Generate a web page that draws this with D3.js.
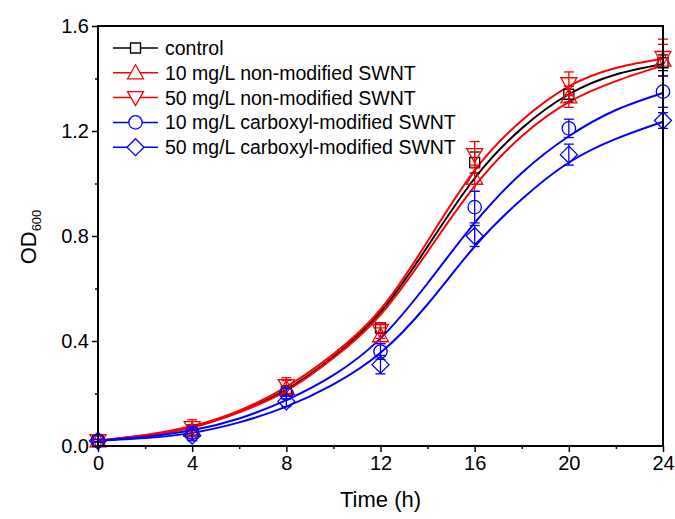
<!DOCTYPE html>
<html>
<head>
<meta charset="utf-8">
<script src="https://cdn.jsdelivr.net/npm/d3@7"></script>
<style>
    body { margin: 0; background: #fff; }
    text { font-family: "Liberation Sans", Arial, sans-serif; fill: #000; }
</style>
</head>
<body>
<script>
(function(){

    //measured time points (h)
    var times = [0, 4, 8, 12, 16, 20, 24];

    //OD600 means
    var control = [0.02, 0.06, 0.21, 0.45, 1.08, 1.34, 1.46];
    var non10   = [0.02, 0.06, 0.22, 0.42, 1.02, 1.33, 1.47];
    var non50   = [0.02, 0.07, 0.23, 0.44, 1.11, 1.38, 1.48];
    var carb10  = [0.02, 0.05, 0.20, 0.36, 0.91, 1.21, 1.35];
    var carb50  = [0.02, 0.04, 0.17, 0.31, 0.80, 1.11, 1.24];

    //error bar half-widths
    var controlErr = [0.005, 0.02, 0.02, 0.02, 0.04, 0.03, 0.03];
    var non10Err   = [0.005, 0.02, 0.03, 0.03, 0.05, 0.04, 0.06];
    var non50Err   = [0.005, 0.03, 0.03, 0.03, 0.05, 0.045, 0.07];
    var carb10Err  = [0.005, 0.02, 0.02, 0.03, 0.06, 0.035, 0.06];
    var carb50Err  = [0.005, 0.02, 0.02, 0.035, 0.04, 0.04, 0.03];

    //fitted curves, every 2 h
    var fitTimes   = [0, 2, 4, 6, 8, 10, 12, 14, 16, 18, 20, 22, 24];
    var controlFit = [0.02, 0.04, 0.072, 0.13, 0.215, 0.34, 0.51, 0.76, 1.02, 1.21, 1.34, 1.415, 1.455];
    var non10Fit   = [0.02, 0.04, 0.07, 0.128, 0.21, 0.335, 0.50, 0.74, 0.99, 1.18, 1.31, 1.39, 1.45];
    var non50Fit   = [0.02, 0.042, 0.076, 0.135, 0.225, 0.35, 0.52, 0.78, 1.05, 1.24, 1.37, 1.44, 1.475];
    var carb10Fit  = [0.02, 0.035, 0.06, 0.105, 0.175, 0.27, 0.41, 0.62, 0.85, 1.04, 1.18, 1.28, 1.345];
    var carb50Fit  = [0.02, 0.03, 0.05, 0.09, 0.15, 0.235, 0.355, 0.54, 0.76, 0.94, 1.08, 1.17, 1.235];

    //series names and tick labels
    var labels = ["control", "10 mg/L non-modified SWNT", "50 mg/L non-modified SWNT",
        "10 mg/L carboxyl-modified SWNT", "50 mg/L carboxyl-modified SWNT"];
    var xTicks = [0, 4, 8, 12, 16, 20, 24];
    var xMinor = [2, 6, 10, 14, 18, 22];
    var yTicks = [0, 0.4, 0.8, 1.2, 1.6];
    var yMinor = [0.2, 0.6, 1.0, 1.4];

    var series = [
        {name: labels[0], vals: control, err: controlErr, fit: controlFit, color: "#000", symbol: "square"},
        {name: labels[1], vals: non10, err: non10Err, fit: non10Fit, color: "#f00", symbol: "up"},
        {name: labels[2], vals: non50, err: non50Err, fit: non50Fit, color: "#f00", symbol: "down"},
        {name: labels[3], vals: carb10, err: carb10Err, fit: carb10Fit, color: "#00f", symbol: "circle"},
        {name: labels[4], vals: carb50, err: carb50Err, fit: carb50Fit, color: "#00f", symbol: "diamond"}
    ];

    var width = 675, height = 519,
        left = 98, right = 663, top = 26, bottom = 446;

    var svg = d3.select("body").append("svg")
        .attr("width", width)
        .attr("height", height);

    var x = d3.scaleLinear().domain([0, 24]).range([left, right]);
    var y = d3.scaleLinear().domain([0, 1.6]).range([bottom, top]);

    //marker path for each symbol
    function marker(sym){
        if (sym == "square") return "M-5,-5H5V5H-5Z";
        if (sym == "up") return "M0,-8L8,6H-8Z";
        if (sym == "down") return "M0,8L8,-6H-8Z";
        if (sym == "circle") return d3.symbol(d3.symbolCircle, 140)();
        return "M0,-8.5L8.5,0L0,8.5L-8.5,0Z";
    }

    //fitted curves
    var line = d3.line()
        .x(function(d){ return x(d[0]); })
        .y(function(d){ return y(d[1]); })
        .curve(d3.curveNatural);

    series.forEach(function(s){
        svg.append("path")
            .datum(fitTimes.map(function(t, i){ return [t, s.fit[i]]; }))
            .attr("d", line)
            .attr("fill", "none")
            .attr("stroke", s.color)
            .attr("stroke-width", 2);
    });

    //error bars and markers
    series.forEach(function(s){
        var g = svg.append("g").attr("stroke", s.color).attr("fill", "none").attr("stroke-width", 1.3);
        times.forEach(function(t, i){
            var cx = x(t), v = s.vals[i], e = s.err[i];
            g.append("line").attr("x1", cx).attr("x2", cx)
                .attr("y1", y(v - e)).attr("y2", y(v + e));
            [v - e, v + e].forEach(function(c){
                g.append("line").attr("x1", cx - 5).attr("x2", cx + 5)
                    .attr("y1", y(c)).attr("y2", y(c));
            });
            g.append("path")
                .attr("d", marker(s.symbol))
                .attr("transform", "translate(" + cx + "," + y(v) + ")");
        });
    });

    //axes with outward ticks
    svg.append("g")
        .attr("transform", "translate(0," + bottom + ")")
        .call(d3.axisBottom(x).tickValues(xTicks).tickSize(6).tickPadding(4).tickFormat(d3.format("d")));
    svg.append("g")
        .attr("transform", "translate(0," + bottom + ")")
        .call(d3.axisBottom(x).tickValues(xMinor).tickSize(3).tickFormat(""));
    svg.append("g")
        .attr("transform", "translate(" + left + ",0)")
        .call(d3.axisLeft(y).tickValues(yTicks).tickSize(6).tickPadding(3).tickFormat(d3.format(".1f")));
    svg.append("g")
        .attr("transform", "translate(" + left + ",0)")
        .call(d3.axisLeft(y).tickValues(yMinor).tickSize(3).tickFormat(""));

    svg.selectAll(".domain").remove();
    svg.selectAll(".tick line").attr("stroke", "#000").attr("stroke-width", 1.5);
    svg.selectAll(".tick text")
        .style("font-family", "'Liberation Sans', Arial, sans-serif")
        .style("font-size", "20px");

    //frame
    svg.append("rect")
        .attr("x", left).attr("y", top)
        .attr("width", right - left).attr("height", bottom - top)
        .attr("fill", "none").attr("stroke", "#000").attr("stroke-width", 2);

    //axis titles
    svg.append("text")
        .attr("x", (left + right) / 2).attr("y", 507)
        .attr("text-anchor", "middle")
        .style("font-size", "22px")
        .text("Time (h)");

    var yt = svg.append("text")
        .attr("transform", "translate(36,237) rotate(-90)")
        .attr("text-anchor", "middle")
        .style("font-size", "22px");
    yt.append("tspan").text("OD");
    yt.append("tspan").attr("dy", 5).style("font-size", "13px").text("600");

    //legend
    var legend = svg.append("g");
    series.forEach(function(s, i){
        var ly = 48 + i * 24.8;
        var g = legend.append("g").attr("transform", "translate(0," + ly + ")");
        g.append("line").attr("x1", 113).attr("x2", 158)
            .attr("stroke", s.color).attr("stroke-width", 1.5);
        g.append("path").attr("d", marker(s.symbol))
            .attr("transform", "translate(135.5,0)")
            .attr("fill", "#fff").attr("stroke", s.color).attr("stroke-width", 1.3);
        g.append("text").attr("x", 165).attr("y", 7)
            .style("font-size", "19.5px")
            .text(s.name);
    });

})();
</script>
</body>
</html>
